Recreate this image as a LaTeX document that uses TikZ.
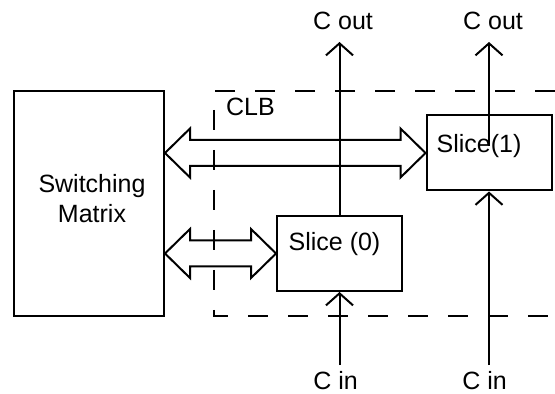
\documentclass[tikz,border=0pt]{standalone}
\usepackage{fontspec}
\setmainfont{Liberation Sans}
\usetikzlibrary{arrows.meta, calc}

% wide bus arrow between two points on one horizontal line
\newcommand{\busarrow}[2]{%
  \draw[bus] let \p1=(#1), \p2=(#2) in
    (\x1,\y1) -- (\x1+12.5pt,\y1+12.25pt) -- (\x1+12.5pt,\y1+6.5pt)
    -- (\x2-12.5pt,\y2+6.5pt) -- (\x2-12.5pt,\y2+12.25pt) -- (\x2,\y2)
    -- (\x2-12.5pt,\y2-12.25pt) -- (\x2-12.5pt,\y2-6.5pt)
    -- (\x1+12.5pt,\y1-6.5pt) -- (\x1+12.5pt,\y1-12.25pt) -- cycle;}

\begin{document}
\begin{tikzpicture}[
    x=0.5pt, y=-0.5pt,
    line width=1pt,
    >={Straight Barb[length=6pt, width=13.5pt]},
    font=\fontsize{12.5}{15}\selectfont,
    % Styles
    block/.style={draw, rectangle, inner sep=0pt},
    slice_box/.style={block, minimum width=62.5pt, minimum height=37.5pt},
    clb_border/.style={dash pattern=on 10pt off 10pt},
    bus/.style={line join=miter},
    io_label/.style={inner sep=0pt}
]
\useasboundingbox (0,0) rectangle (555,394);

% 1. Switching matrix
\node[block, minimum width=75pt, minimum height=112.5pt,
      label={[align=center, xshift=1.5pt, yshift=2.25pt]center:{Switching\\Matrix}}] (sw) at (89,203.5) {};

% 2. CLB with its two slices
\draw[clb_border] (555,91) -- (214,91) -- (214,316) -- (555,316);
\node (clb) at (250.5,107) {CLB};
\node[slice_box, label={[xshift=-2.5pt, yshift=4.75pt]center:Slice (0)}] (s0) at (339.5,253.5) {};
\node[slice_box, label={[xshift=-5pt, yshift=3.5pt]center:Slice(1)}] (s1) at (489,153) {};

% Buses
\busarrow{sw.east |- s1.west}{s1.west}
\busarrow{sw.east |- s0.west}{s0.west}

% Carry chain
\coordinate (cout0) at (339.5,42);
\coordinate (cout1) at (489,42);
\coordinate (s1tap) at (489,146);
\coordinate (cin0) at (339.5,365);
\coordinate (cin1) at (489,365);
\node[io_label] (lbl_cout0) at (343,21) {C out};
\node[io_label] (lbl_cout1) at (493,21) {C out};
\node[io_label] (lbl_cin0) at (335.5,381) {C in};
\node[io_label] (lbl_cin1) at (484.5,381) {C in};

\draw[->] (s0.north) -- (cout0);
\draw[->] (s1tap) -- (cout1);
\draw[->] (cin0) -- (s0.south);
\draw[->] (cin1) -- (s1.south);

\end{tikzpicture}
\end{document}
